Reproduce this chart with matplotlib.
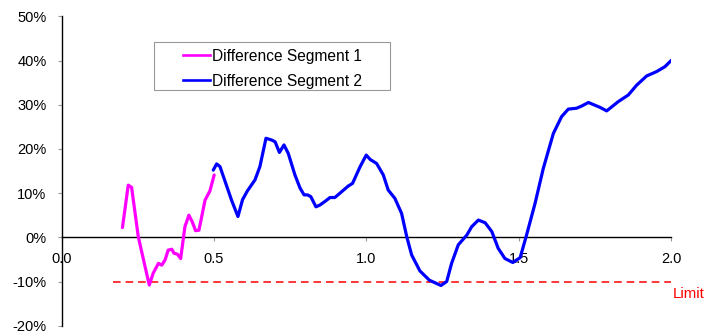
import matplotlib
matplotlib.use("Agg")
import matplotlib.pyplot as plt
from matplotlib.ticker import FuncFormatter, MultipleLocator
from matplotlib.patches import Rectangle
from matplotlib.lines import Line2D

plt.rcParams['font.family'] = ['Liberation Sans', 'DejaVu Sans']

# Segment 1 (x, difference %)
seg1_x = [0.200, 0.219, 0.230, 0.252, 0.288, 0.301, 0.318, 0.329, 0.340, 0.350,
          0.362, 0.369, 0.380, 0.391, 0.405, 0.418, 0.429, 0.440, 0.451, 0.471,
          0.487, 0.501]
seg1_y = [2.2, 11.8, 11.3, 0.1, -10.8, -8.1, -5.9, -6.3, -5.1, -2.9,
          -2.7, -3.6, -3.8, -4.8, 2.4, 5.0, 3.5, 1.5, 1.6, 8.4,
          10.5, 14.1]

# Segment 2
seg2_x = [0.498, 0.509, 0.520, 0.537, 0.558, 0.579, 0.594, 0.610, 0.635, 0.651,
          0.671, 0.690, 0.701, 0.715, 0.730, 0.744, 0.766, 0.783, 0.796, 0.807,
          0.818, 0.835, 0.848, 0.870, 0.881, 0.897, 0.919, 0.941, 0.955, 0.980,
          1.000, 1.013, 1.034, 1.056, 1.072, 1.094, 1.116, 1.133, 1.149, 1.176,
          1.207, 1.245, 1.264, 1.280, 1.302, 1.330, 1.346, 1.368, 1.390, 1.412,
          1.433, 1.455, 1.481, 1.505, 1.526, 1.554, 1.581, 1.614, 1.641, 1.663,
          1.690, 1.707, 1.729, 1.767, 1.789, 1.827, 1.860, 1.887, 1.920, 1.953,
          1.980, 2.002]
seg2_y = [15.2, 16.6, 16.0, 12.6, 8.4, 4.7, 8.5, 10.5, 13.0, 16.0,
          22.4, 22.0, 21.6, 19.2, 20.9, 19.0, 14.1, 11.1, 9.6, 9.6,
          9.2, 6.9, 7.3, 8.4, 9.0, 9.0, 10.3, 11.6, 12.2, 16.0,
          18.6, 17.6, 16.7, 14.1, 10.7, 8.8, 5.4, 0.1, -4.0, -7.6,
          -9.7, -10.9, -10.0, -5.9, -1.7, 0.5, 2.4, 3.9, 3.3, 1.3,
          -2.5, -4.8, -5.7, -4.6, 0.5, 7.7, 15.6, 23.5, 27.3, 29.0,
          29.2, 29.7, 30.5, 29.4, 28.6, 30.7, 32.2, 34.4, 36.5, 37.5,
          38.6, 40.1]

limit_x = [0.169, 2.0]
limit_y = [-10, -10]

labels = ['Difference Segment 1', 'Difference Segment 2']
colors = ['#FF00FF', '#0000FF']

fig = plt.figure(figsize=(7.06, 3.35), dpi=100)
ax = fig.add_axes([61.5/706, 1 - 325.7/335, (671 - 61.5)/706, (325.7 - 16.3)/335])

ax.plot(seg1_x, seg1_y, color=colors[0], lw=2.3, solid_joinstyle='round',
        solid_capstyle='round', zorder=3)
ax.plot(seg2_x, seg2_y, color=colors[1], lw=2.3, solid_joinstyle='round',
        solid_capstyle='round', zorder=3)
ax.plot(limit_x, limit_y, color='#FF0000', lw=1.1, dashes=(5, 3.2), zorder=2)
ax.text(2.005, -12.9, 'Limit', color='#FF0000', fontsize=10.8, ha='left', va='center',
        clip_on=False)

ax.set_xlim(0, 2.0)
ax.set_ylim(-20, 50)
ax.xaxis.set_major_locator(MultipleLocator(0.5))
ax.yaxis.set_major_locator(MultipleLocator(10))
ax.xaxis.set_major_formatter(FuncFormatter(lambda v, p: f'{v:.1f}'))
ax.yaxis.set_major_formatter(FuncFormatter(lambda v, p: f'{int(round(v))}%'))

ax.spines['top'].set_visible(False)
ax.spines['right'].set_visible(False)
ax.spines['bottom'].set_position(('data', 0))
ax.spines['bottom'].set_linewidth(1.0)
ax.spines['left'].set_linewidth(1.0)
ax.tick_params(axis='x', direction='out', length=3, width=0.8, color='#999999',
               pad=7.5, labelsize=10.5)
ax.tick_params(axis='y', direction='out', length=3, width=0.8, color='#999999',
               pad=7.8, labelsize=10.5)

# legend
handles = [Line2D([], [], color=c, lw=1.9) for c in colors]
leg = fig.legend(handles, labels, loc='upper left',
                 bbox_to_anchor=(183/706, 1 - 48.5/335), frameon=False,
                 fontsize=11.2, handlelength=1.73, handletextpad=0.13,
                 labelspacing=0.65, borderpad=0.0, borderaxespad=0.0)
fig.add_artist(Rectangle((154/706, 1 - 90/335), 236/706, 48/335,
                         transform=fig.transFigure, fill=False,
                         edgecolor='#999999', lw=0.8))

fig.savefig('out.png', dpi=100)
